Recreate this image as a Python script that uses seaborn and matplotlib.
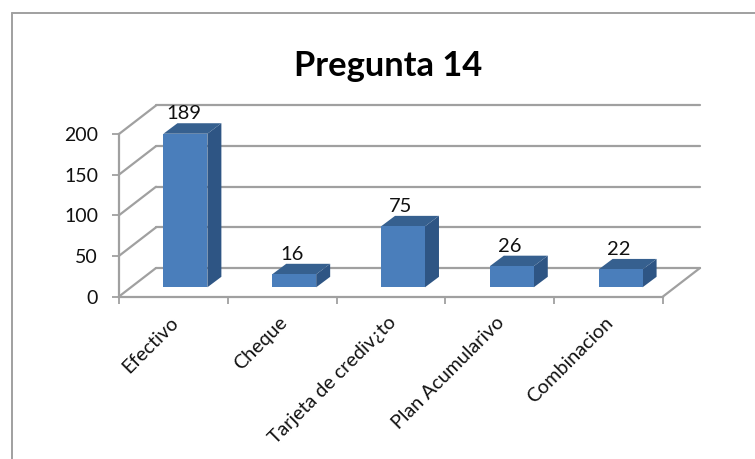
import matplotlib
matplotlib.use('Agg')
import matplotlib.pyplot as plt
from matplotlib.patches import Polygon
from matplotlib.transforms import ScaledTranslation
import pandas as pd
import seaborn as sns

# --- Data ---
categories = ['Efectivo', 'Cheque', 'Tarjeta de crediv¿to', 'Plan Acumularivo', 'Combinacion']
values = [189, 16, 75, 26, 22]
y_ticks = [0, 50, 100, 150, 200]

W, H = 755, 459
FRONT = '#4a7ebb'
SIDE = '#2e5584'
TOP = '#36608f'
GRID = '#a0a0a0'
TEXT = '#111111'

sns.set_theme(style='white')
plt.rcParams['font.family'] = ['Lato', 'DejaVu Sans']

fig = plt.figure(figsize=(W / 100, H / 100), dpi=100)
# axes = front plane of the 3D box, in image pixels
ax = fig.add_axes([119 / W, 1 - 296.5 / H, 544 / W, 162.5 / H])


def shifted(dx, dy):
    """transData moved by dx, dy pixels (y up)."""
    return ax.transData + ScaledTranslation(dx / 100, dy / 100, fig.dpi_scale_trans)


def fig_line(p0, p1, lw=1.6):
    """Line between two display points, drawn on the figure."""
    fig.add_artist(plt.Line2D([p0[0] / W, p1[0] / W], [p0[1] / H, p1[1] / H],
                              color=GRID, lw=lw, zorder=1))


df = pd.DataFrame({'categoria': categories, 'valor': values})
sns.barplot(data=df, x='categoria', y='valor', ax=ax, color=FRONT, saturation=1,
            width=0.404, zorder=5)
ax.set_xlim(-0.5, 4.5)
ax.set_ylim(0, 200)
ax.set_xlabel('')
ax.set_ylabel('')

# bars sit a little behind the front plane
bar_dx, bar_dy = 12, 9.2
depth_dx, depth_dy = 14, 10.5
back = shifted(37, 28.5)

for v in y_ticks:
    ax.plot([-0.5, 4.5], [v, v], transform=back, color=GRID, lw=1.6, zorder=1, clip_on=False)
    # left wall
    fig_line(ax.transData.transform((-0.5, v)), back.transform((-0.5, v)))

# floor, right edge
fig_line(ax.transData.transform((4.5, 0)), back.transform((4.5, 0)))

front_tf = shifted(bar_dx, bar_dy)
depth_tf = shifted(bar_dx + depth_dx, bar_dy + depth_dy)
for bar, v in zip(ax.patches, values):
    x0, x1 = bar.get_x(), bar.get_x() + bar.get_width()
    bar.set_transform(front_tf)
    bar.set_clip_on(False)
    bar.set_linewidth(0)
    # side and top faces, built in pixels from the bar corners
    a = front_tf.transform([(x1, 0), (x1, v), (x0, v)])
    b = depth_tf.transform([(x1, 0), (x1, v), (x0, v)])
    ax.add_patch(Polygon([a[0], b[0], b[1], a[1]], transform=None, closed=True,
                         facecolor=SIDE, edgecolor='none', zorder=4, clip_on=False))
    ax.add_patch(Polygon([a[2], b[2], b[1], a[1]], transform=None, closed=True,
                         facecolor=TOP, edgecolor='none', zorder=4, clip_on=False))

for i, v in enumerate(values):
    ax.annotate(str(v), (i, v), xytext=(10, 29), textcoords='offset pixels',
                ha='center', va='center', fontsize=14.5, color=TEXT, zorder=6,
                annotation_clip=False)

ax.set_yticks(y_ticks)
# ticks sit on the category boundaries, labels move to the centres
ax.set_xticks([-0.5, 0.5, 1.5, 2.5, 3.5, 4.5])
ax.set_xticklabels([])
ax.tick_params(axis='both', length=5, width=1.3, color=GRID, left=True, bottom=True)
ax.tick_params(axis='y', labelsize=14, labelcolor=TEXT, pad=10)
for spine in ['top', 'right']:
    ax.spines[spine].set_visible(False)
for spine in ['left', 'bottom']:
    ax.spines[spine].set_color(GRID)
    ax.spines[spine].set_linewidth(1.6)

label_tf = shifted(-4, -17)
for i, name in enumerate(categories):
    ax.text(i, 0, name, transform=label_tf, rotation=45, rotation_mode='anchor',
            ha='right', va='top', fontsize=14.1, color=TEXT, clip_on=False)

fig.text(388 / W, 1 - 66.5 / H, 'Pregunta 14', ha='center', va='center',
         fontsize=24.8, fontweight='bold', color='#000000')

# frame of the chart area: only the top and left edges show in the crop
fig_line((12, H - 13), (W, H - 13), lw=1.4)
fig_line((12, H - 13), (12, 0), lw=1.4)

fig.savefig('out.png', dpi=100)
